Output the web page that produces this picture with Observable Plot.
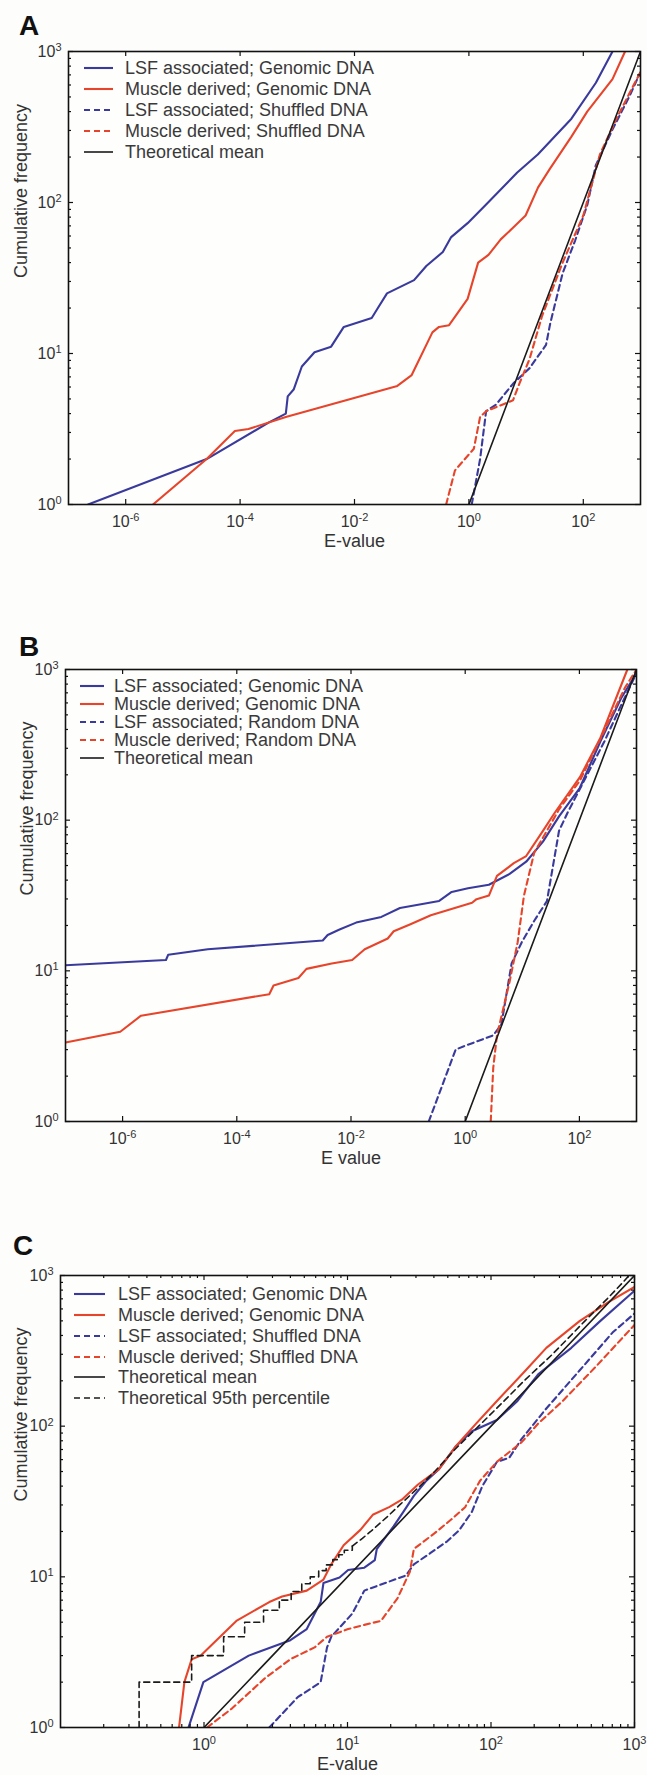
<!DOCTYPE html>
<html><head><meta charset="utf-8">
<script src="https://cdn.jsdelivr.net/npm/d3@7"></script>
<script src="https://cdn.jsdelivr.net/npm/@observablehq/plot@0.6"></script>
<style>
html,body{margin:0;padding:0;background:#fdfdfc;}
#page{position:relative;width:647px;height:1775px;overflow:hidden;font-family:"Liberation Sans",Arial,Helvetica,sans-serif;color:#333;}
.panel{position:absolute;left:0;}
.letter{position:absolute;font-weight:bold;font-size:28px;line-height:28px;color:#111;}
.lrow{position:absolute;height:20px;line-height:20px;font-size:18px;color:#3a3a3a;white-space:nowrap;}
.lrow svg{position:absolute;left:0;top:0;}
.lrow span{position:absolute;top:0;}
</style></head><body><div id="page"></div><script>
// ---------- data: [E-value, cumulative frequency] ----------
const theoreticalMean = [[1,1],[1000,1000]];

// Panel A
const aLsfGenomic = [[2.2e-7,1],[2.6e-5,2.0],[3.2e-4,3.5],[6.3e-4,4.0],[6.8e-4,5.2],[8.7e-4,5.8],[1.2e-3,8.2],[2.0e-3,10.2],[3.9e-3,11.1],[6.5e-3,15],[0.020,17.2],[0.025,19.7],[0.037,25],[0.11,30.6],[0.18,38],[0.35,47],[0.49,59],[0.95,73],[2.0,97],[7.0,158],[16,208],[62,359],[166,621],[324,1000]];
const aMuscleGenomic = [[3.0e-6,1],[2.6e-5,2.0],[8.1e-5,3.07],[1.4e-4,3.16],[6.3e-4,3.8],[0.056,6.1],[0.1,7.2],[0.23,13.8],[0.30,15],[0.45,15.4],[0.95,23],[1.45,40],[2.2,45],[3.6,57],[5.9,68],[9.8,82],[16.2,126],[26,167],[62,273],[117,400],[324,656],[537,1000]];
const aLsfShuffled = [[1.12,1],[1.57,2.0],[2.0,4.15],[3.0,4.6],[5.9,6.3],[11.5,8.0],[22.3,11.4],[26.5,15.9],[43.5,34],[72,56],[118,97],[165,176],[325,305],[630,499],[1000,730]];
const aMuscleShuffled = [[0.40,1],[0.57,1.68],[1.22,2.34],[1.57,3.8],[2.0,4.15],[5.9,4.9],[7.6,6.3],[11.5,9.2],[19,17.7],[43.5,40],[100,82],[195,208],[380,359],[740,588],[1000,730]];

// Panel B
const bLsfGenomic = [[1e-7,10.9],[5.75e-6,11.8],[6.3e-6,12.8],[3.1e-5,13.9],[3.2e-3,15.9],[3.9e-3,17.3],[6.3e-3,18.8],[0.0123,20.9],[0.034,22.8],[0.072,26.1],[0.35,29.1],[0.58,33.4],[1.12,35.3],[2.6,37.3],[6.0,44],[11.7,53],[23,72],[44,106],[102,164],[234,334],[537,645],[1000,946]];
const bMuscleGenomic = [[1e-7,3.34],[9.1e-7,3.94],[2.1e-6,5.04],[3.7e-4,7.0],[4.4e-4,8.0],[1.2e-3,8.96],[1.66e-3,10.3],[4.6e-3,11.2],[0.0105,11.8],[0.0174,13.9],[0.044,16.4],[0.056,18.3],[0.11,20.4],[0.25,23.4],[1.32,28.3],[1.58,29.9],[2.6,31.6],[3.6,42.7],[7.1,51.8],[11.7,57.8],[23,84.9],[37,112],[102,193],[234,353],[692,1000]];
const bLsfRandom = [[0.23,1],[0.68,3.0],[0.95,3.16],[3.1,3.73],[4.3,4.4],[6.5,11.2],[9.8,15.5],[16.2,21.5],[27,29],[44,85],[62,112],[275,334],[537,578],[1000,946]];
const bMuscleRandom = [[2.8,1],[3.1,2.28],[3.6,3.73],[6.0,8.5],[8.3,15.5],[10.7,31.6],[16.2,61],[27,85],[44,118],[102,183],[275,394],[630,760],[1000,1000]];

// Panel C
const cLsfGenomic = [[0.78,1],[0.99,2.0],[2.05,3.0],[4.0,3.8],[5.2,4.5],[6.5,6.8],[6.8,9.1],[8.8,9.9],[10.1,11.1],[13.1,11.5],[15.5,12.9],[16.0,15.3],[21,21.7],[24.7,27.3],[29,34.5],[35.5,43.5],[43.4,51.8],[56.5,73],[73.6,92.5],[110,110],[153,147],[213,221],[363,331],[576,498],[1000,792]];
const cMuscleGenomic = [[0.67,1],[0.73,2.0],[0.82,2.84],[0.95,3.0],[1.68,5.1],[2.85,6.8],[3.5,7.4],[5.2,8.1],[6.8,9.6],[7.7,12.1],[9.4,16.2],[12.3,20.5],[15,25.8],[19.5,29],[23.9,32.5],[31,41],[43.4,51.8],[56.5,73],[78.7,104],[110,147],[174,234],[243,331],[414,498],[658,666],[1000,840]];
const cLsfShuffled = [[2.85,1],[4.5,1.59],[6.5,2.0],[7.2,3.4],[7.7,4.0],[10.8,5.7],[13.1,8.1],[18.3,9.1],[25.5,10.2],[29,12.1],[37.9,14.4],[49.5,17.2],[60.3,20.5],[73.6,27],[87,40],[110,58],[134,61.6],[163,82],[243,131],[414,234],[703,418],[1000,560]];
const cMuscleShuffled = [[1.05,1],[1.57,1.34],[2.67,2.13],[4.0,2.84],[5.9,3.4],[7.2,4.0],[10.1,4.5],[13.1,4.8],[17.1,5.1],[22.3,7.2],[27.2,10.8],[29,15.3],[40.5,19.5],[52.8,24],[66,29],[84,43.5],[110,58],[163,78],[213,104],[316,147],[537,248],[1000,470]];
const cPct95Steps = [[0.353,1],[0.353,2],[0.82,3],[1.37,4],[1.92,5],[2.6,6],[3.35,7],[4.05,8],[4.8,9],[5.5,10],[6.3,11],[7.1,12],[7.9,13],[8.7,14],[9.5,15],[10.8,16]];
const cPct95Tail = [[10.8,16],[12.7,18],[14.5,20],[18.9,25],[23.1,30],[32,40],[40.5,50],[56,70],[82,100],[126,150],[170,200],[268,300],[360,400],[452,500],[645,700],[830,900],[915,1000]];

// ticks and labels
const yMajorTicks = [1,10,100,1000];
const yMinorTicks = [2,3,4,5,6,7,8,9,20,30,40,50,60,70,80,90,200,300,400,500,600,700,800,900];
const abMajorTicks = [1e-6,1e-4,1e-2,1,100];
const cMajorTicks = [1,10,100,1000];
const cMinorTicks = [0.2,0.3,0.4,0.5,0.6,0.7,0.8,0.9,2,3,4,5,6,7,8,9,20,30,40,50,60,70,80,90,200,300,400,500,600,700,800,900];
const legendA = ["LSF associated; Genomic DNA","Muscle derived; Genomic DNA","LSF associated; Shuffled DNA","Muscle derived; Shuffled DNA","Theoretical mean"];
const legendB = ["LSF associated; Genomic DNA","Muscle derived; Genomic DNA","LSF associated; Random DNA","Muscle derived; Random DNA","Theoretical mean"];
const legendC = ["LSF associated; Genomic DNA","Muscle derived; Genomic DNA","LSF associated; Shuffled DNA","Muscle derived; Shuffled DNA","Theoretical mean","Theoretical 95th percentile"];

// ---------- drawing ----------
const BLUE = "#3a3a9c", RED = "#e6452b", BLACK = "#1b1b1b", DASH = "6,4";
const page = document.getElementById("page");
const fmt = d => "10^" + Math.round(Math.log10(d));

function line(data, stroke, dash, sw, curve) {
  return Plot.line(data, {x: d => d[0], y: d => d[1], stroke, strokeWidth: sw || 2.1,
    strokeDasharray: dash, curve: curve || "linear", clip: true});
}

function panel(cfg) {
  const W = 647 - cfg.ml - cfg.mr, H = cfg.height - cfg.mt - cfg.mb;
  const tk = (vals, len) => [
    Plot.tickX(vals, {x: d => d, insetTop: H - len, stroke: "#111", strokeWidth: 1.2}),
    Plot.tickX(vals, {x: d => d, insetBottom: H - len, stroke: "#111", strokeWidth: 1.2})
  ];
  const tky = (vals, len) => [
    Plot.tickY(vals, {y: d => d, insetRight: W - len, stroke: "#111", strokeWidth: 1.2}),
    Plot.tickY(vals, {y: d => d, insetLeft: W - len, stroke: "#111", strokeWidth: 1.2})
  ];
  const chart = Plot.plot({
    width: 647, height: cfg.height,
    marginLeft: cfg.ml, marginRight: cfg.mr, marginTop: cfg.mt, marginBottom: cfg.mb,
    x: {type: "log", domain: cfg.xDomain},
    y: {type: "log", domain: [1, 1000]},
    style: {fontFamily: '"Liberation Sans", Arial, Helvetica, sans-serif', fontSize: "16px", color: "#333", background: "transparent", overflow: "visible"},
    marks: [
      Plot.frame({fill: "#fefefd", stroke: null}),
      ...cfg.series,
      ...tk(cfg.xMajor, 5),
      ...(cfg.xMinor ? tk(cfg.xMinor, 3) : []),
      ...tky(yMajorTicks, 5),
      ...tky(yMinorTicks, 3),
      Plot.frame({stroke: "#111", strokeWidth: 1.6}),
      Plot.axisX(cfg.xMajor, {anchor: "bottom", tickSize: 0, tickPadding: 11, tickFormat: fmt, label: null, fontSize: 16, fill: "#333"}),
      Plot.axisY(yMajorTicks, {anchor: "left", tickSize: 0, tickPadding: 7, tickFormat: fmt, label: null, fontSize: 16, fill: "#333"}),
      Plot.text([cfg.xLabel], {frameAnchor: "bottom", dy: 42, text: d => d, fontSize: 18, fill: "#333"}),
      Plot.text(["Cumulative frequency"], {frameAnchor: "left", dx: -(cfg.ml - cfg.yLabelX), rotate: -90, text: d => d, fontSize: 18, fill: "#333"})
    ]
  });
  // superscript exponents
  chart.querySelectorAll("text").forEach(t => {
    const m = t.textContent.match(/^10\^(-?\d+)$/);
    if (m) {
      t.textContent = "10";
      const ts = document.createElementNS("http://www.w3.org/2000/svg", "tspan");
      ts.setAttribute("dy", "-0.5em");
      ts.setAttribute("font-size", "11");
      ts.textContent = m[1];
      t.appendChild(ts);
    }
  });
  const div = document.createElement("div");
  div.className = "panel";
  div.style.top = cfg.top + "px";
  div.appendChild(chart);
  page.appendChild(div);
}

function legend(labels, styles, sampleX, sampleLen, textX, rows) {
  labels.forEach((lab, i) => {
    const row = document.createElement("div");
    row.className = "lrow";
    row.style.left = sampleX + "px";
    row.style.top = (rows[i] - 10) + "px";
    const s = styles[i];
    row.innerHTML = `<svg width="${sampleLen}" height="20"><line x1="0" x2="${sampleLen}" y1="10" y2="10" stroke="${s.stroke}" stroke-width="${s.sw || 2.1}" ${s.dash ? `stroke-dasharray="${s.dash}"` : ""}/></svg><span style="left:${textX - sampleX}px">${lab}</span>`;
    page.appendChild(row);
  });
}

function letter(ch, x, y) {
  const d = document.createElement("div");
  d.className = "letter";
  d.style.left = x + "px"; d.style.top = y + "px";
  d.textContent = ch;
  page.appendChild(d);
}

const st4 = [{stroke: BLUE}, {stroke: RED}, {stroke: BLUE, dash: DASH}, {stroke: RED, dash: DASH}, {stroke: BLACK, sw: 1.6}];

panel({top: 0, height: 575, ml: 68, mr: 7, mt: 51, mb: 71, yLabelX: 21, xDomain: [1e-7, 1e3], xMajor: abMajorTicks, xLabel: "E-value",
  series: [line(aLsfGenomic, BLUE), line(aMuscleGenomic, RED), line(aLsfShuffled, BLUE, DASH), line(aMuscleShuffled, RED, DASH), line(theoreticalMean, BLACK, null, 1.6)]});
panel({top: 580, height: 600, ml: 65, mr: 11, mt: 89, mb: 59, yLabelX: 27, xDomain: [1e-7, 1e3], xMajor: abMajorTicks, xLabel: "E value",
  series: [line(bLsfGenomic, BLUE), line(bMuscleGenomic, RED), line(bLsfRandom, BLUE, DASH), line(bMuscleRandom, RED, DASH), line(theoreticalMean, BLACK, null, 1.6)]});
panel({top: 1180, height: 595, ml: 60, mr: 13, mt: 95, mb: 48, yLabelX: 21, xDomain: [0.1, 1e3], xMajor: cMajorTicks, xMinor: cMinorTicks, xLabel: "E-value",
  series: [line(cLsfGenomic, BLUE), line(cMuscleGenomic, RED), line(cLsfShuffled, BLUE, DASH), line(cMuscleShuffled, RED, DASH), line(theoreticalMean, BLACK, null, 1.6),
    line(cPct95Steps, BLACK, DASH, 1.6, "step-after"), line(cPct95Tail, BLACK, DASH, 1.6)]});

legend(legendA, st4, 84, 29, 125, [68, 89, 110, 131, 152]);
legend(legendB, st4, 80, 24, 114, [686, 704, 722, 740, 758]);
legend(legendC, [...st4, {stroke: BLACK, sw: 1.6, dash: DASH}], 74, 31, 118, [1294, 1315, 1336, 1357, 1377, 1398]);

letter("A", 19, 12);
letter("B", 19, 633);
letter("C", 13, 1232);
</script></body></html>
